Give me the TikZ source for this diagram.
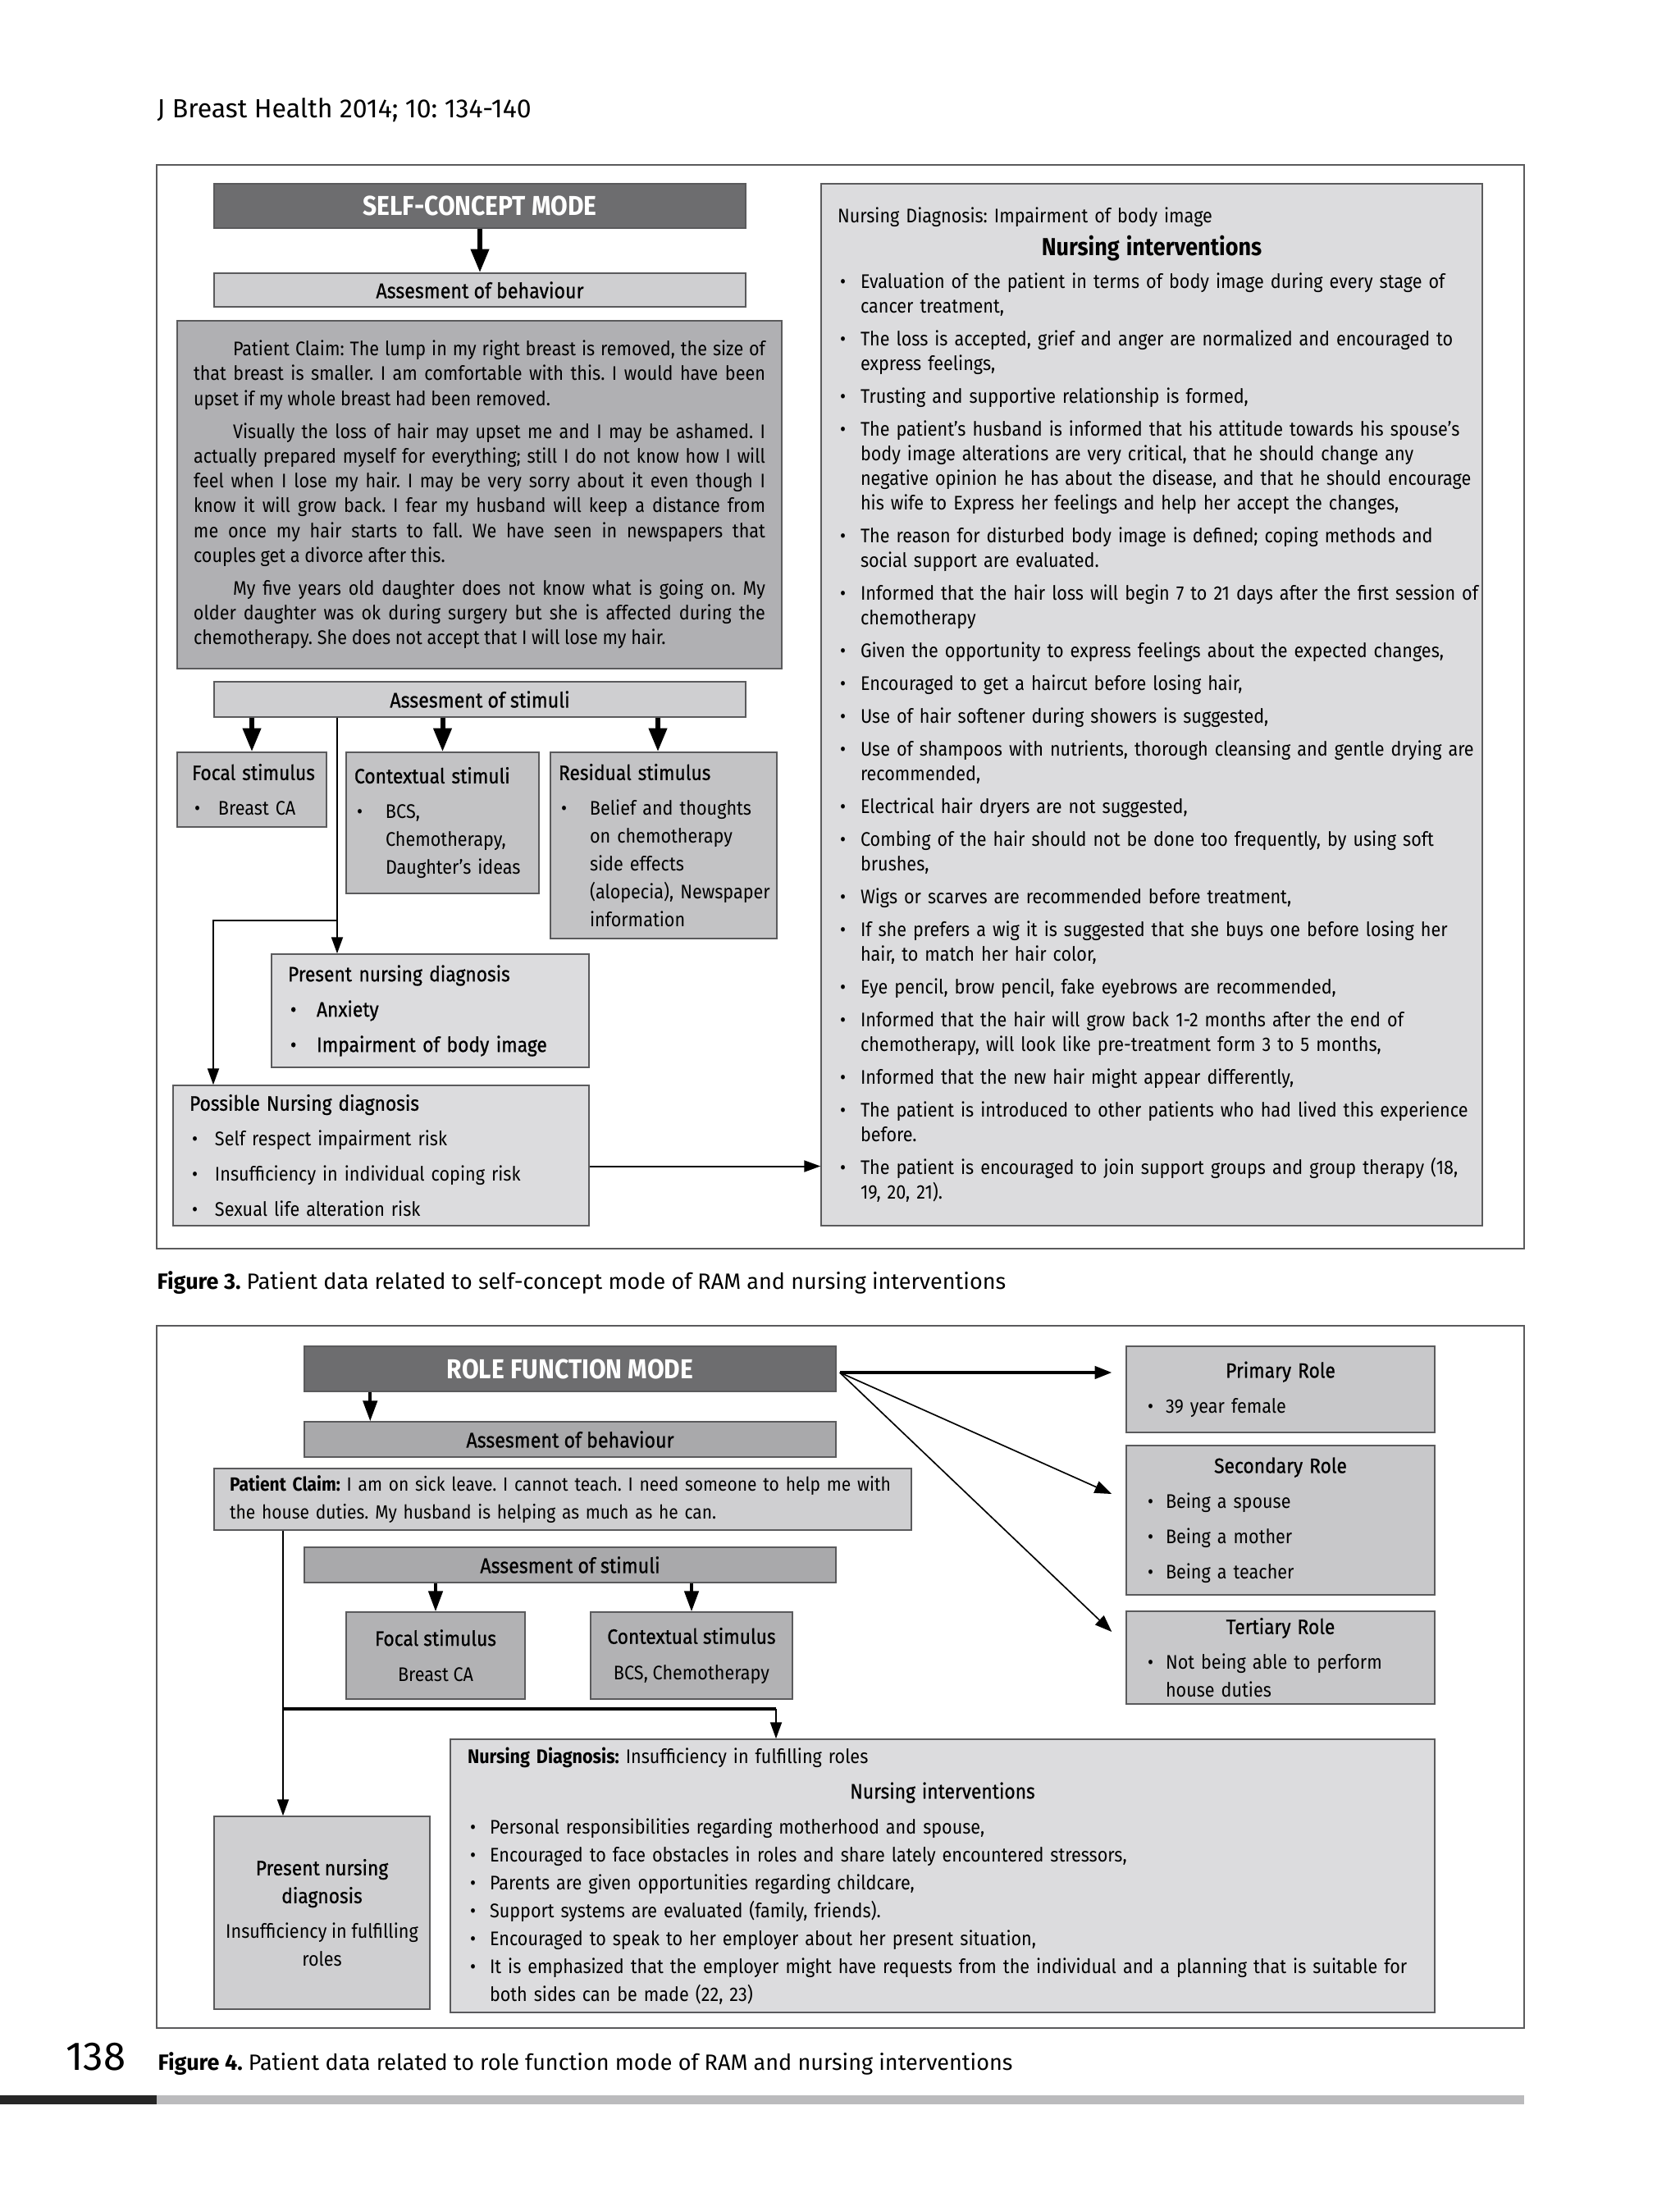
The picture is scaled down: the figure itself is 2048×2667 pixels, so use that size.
\documentclass[tikz,border=0pt]{standalone}
\usepackage{fontspec}
\setmainfont{Fira Sans}[FakeStretch=0.9]
\newfontfamily\medfont{Fira Sans}[FakeStretch=0.9,FakeBold=0.8]
\newfontfamily\capfont{Fira Sans}
\usetikzlibrary{arrows.meta,positioning}
\frenchspacing

\definecolor{modegray}{HTML}{6D6D6F}
\definecolor{boxpale}{HTML}{DCDCDE}
\definecolor{boxlight}{HTML}{CFCFD1}
\definecolor{boxclaim}{HTML}{B0B0B3}
\definecolor{boxstim}{HTML}{C3C3C5}
\definecolor{boxdim}{HTML}{A9A9AB}
\definecolor{boxfocal}{HTML}{B2B2B4}
\definecolor{boxrole}{HTML}{C8C8CA}
\definecolor{bargray}{HTML}{BBBBBD}
\definecolor{linegray}{HTML}{5A5A5C}

\newdimen\pxu
\pxu=0.3pt

\newcommand{\headfont}{\fontsize{7.6pt}{10.2pt}\medfont}
\newcommand{\bul}[2][9pt]{\par\hangindent=#1\hangafter=1\noindent\makebox[#1][l]{\hspace{0.9pt}\textbullet}#2\par}

\tikzset{
  boxline/.style={draw=linegray, line width=0.45pt},
  framebox/.style={draw=linegray, line width=0.55pt},
  modebox/.style={boxline, fill=modegray, text=white, inner sep=0pt,
    font=\fontsize{10pt}{11pt}\selectfont\bfseries},
  headbox/.style={boxline, inner sep=0pt, font=\fontsize{7.75pt}{9pt}\medfont},
  textbox/.style={boxline, inner ysep=0pt, align=left,
    font=\fontsize{7.2pt}{10.2pt}\selectfont,
    execute at begin node={\rightskip=-10pt plus 1fil\relax\parskip=2.7pt\relax}},
  centerbox/.style={boxline, inner sep=0pt, align=center,
    font=\fontsize{7.2pt}{10.2pt}\selectfont},
  bigarrow/.style={line width=1.8pt, -{Triangle[length=8.6pt,width=6.4pt]}},
  midarrow/.style={line width=1.1pt, -{Triangle[length=7.5pt,width=5.2pt]}},
  thinarrow/.style={line width=0.6pt, -{Triangle[length=6pt,width=4.2pt]}},
  rolearrow/.style={line width=0.5pt, -{Triangle[length=6.2pt,width=4.6pt]}},
}

\begin{document}
\begin{tikzpicture}[x=0.3pt, y=-0.3pt]
\useasboundingbox (0,0) rectangle (2048,2667);
\fill[white] (0,0) rectangle (2048,2667);

\node[anchor=base west, inner sep=0pt, font=\fontsize{9.6pt}{11pt}\capfont] (journal) at (191,143) {J Breast Health 2014; 10: 134-140};

\draw[framebox] (191,201) rectangle (1858,1522);
\node[modebox, minimum width=648\pxu, minimum height=54\pxu] (self) at (585,251) {SELF-CONCEPT MODE};
\node[headbox, fill=boxlight, minimum width=648\pxu, minimum height=41\pxu] (behav3) at (585,353.5) {Assesment of behaviour};
\node[boxline, fill=boxclaim, inner ysep=0pt, inner xsep=20\pxu, align=justify, text width=697\pxu,
  minimum width=737\pxu, minimum height=424\pxu, font=\fontsize{7.2pt}{9.06pt}\selectfont,
  execute at begin node={\parskip=3pt\relax}] (claim3) at (584.5,603) {%
\hspace*{14.4pt}Patient Claim: The lump in my right breast is removed, the size of\linebreak
that breast is smaller. I am comfortable with this. I would have been\linebreak
upset if my whole breast had been removed.\par
\hspace*{14.4pt}Visually the loss of hair may upset me and I may be ashamed. I\linebreak
actually prepared myself for everything; still I do not know how I will\linebreak
feel when I lose my hair. I may be very sorry about it even though I\linebreak
know it will grow back. I fear my husband will keep a distance from\linebreak
me once my hair starts to fall. We have seen in newspapers that\linebreak
couples get a divorce after this.\par
\hspace*{14.4pt}My five years old daughter does not know what is going on. My\linebreak
older daughter was ok during surgery but she is affected during the\linebreak
chemotherapy. She does not accept that I will lose my hair.};
\node[headbox, fill=boxlight, minimum width=648\pxu, minimum height=43\pxu] (stim3) at (585,852.5) {Assesment of stimuli};
\node[textbox, fill=boxstim, inner xsep=18\pxu, text width=146\pxu, minimum width=182\pxu, minimum height=91\pxu] (focal3) at (307,962.5)
  {{\headfont Focal stimulus}\bul[9.6pt]{Breast CA}};
\node[textbox, fill=boxstim, inner xsep=10\pxu, text width=215\pxu, minimum width=235\pxu, minimum height=172\pxu] (context3) at (539.5,1003)
  {{\headfont Contextual stimuli}\bul[11.4pt]{BCS,\newline Chemotherapy,\newline Daughter’s ideas}};
\node[textbox, fill=boxstim, inner xsep=10\pxu, text width=256\pxu, minimum width=276\pxu, minimum height=227\pxu] (resid3) at (809,1030.5)
  {{\headfont Residual stimulus}\bul[11.4pt]{Belief and thoughts\newline on chemotherapy\newline side effects\newline (alopecia), Newspaper\newline information}};
\node[textbox, fill=boxpale, inner xsep=20\pxu, text width=347\pxu, minimum width=387\pxu, minimum height=138\pxu, font=\headfont] (present3) at (524.5,1232)
  {Present nursing diagnosis\bul[10.5pt]{Anxiety}\bul[10.5pt]{Impairment of body image}};
\node[textbox, fill=boxpale, inner xsep=20\pxu, text width=467\pxu, minimum width=507\pxu, minimum height=171\pxu] (possible3) at (464.5,1408.5)
  {{\headfont Possible Nursing diagnosis}\bul[9.3pt]{Self respect impairment risk}\bul[9.3pt]{Insufficiency in individual coping risk}\bul[9.3pt]{Sexual life alteration risk}};
\node[textbox, fill=boxpale, inner xsep=20\pxu, text width=766\pxu, minimum width=806\pxu, minimum height=1270\pxu,
  font=\fontsize{7.2pt}{9pt}\selectfont,
  execute at begin node={\rightskip=-12pt plus 1fil\relax\parskip=3pt\relax}] (interv3) at (1404,859) {%
Nursing Diagnosis: Impairment of body image\par
{\centering\fontsize{9pt}{9pt}\selectfont\bfseries Nursing interventions\par}
\bul[8.4pt]{Evaluation of the patient in terms of body image during every stage of\newline cancer treatment,}
\bul[8.4pt]{The loss is accepted, grief and anger are normalized and encouraged to\newline express feelings,}
\bul[8.4pt]{Trusting and supportive relationship is formed,}
\bul[8.4pt]{The patient’s husband is informed that his attitude towards his spouse’s\newline body image alterations are very critical, that he should change any\newline negative opinion he has about the disease, and that he should encourage\newline his wife to Express her feelings and help her accept the changes,}
\bul[8.4pt]{The reason for disturbed body image is defined; coping methods and\newline social support are evaluated.}
\bul[8.4pt]{Informed that the hair loss will begin 7 to 21 days after the first session of\newline chemotherapy}
\bul[8.4pt]{Given the opportunity to express feelings about the expected changes,}
\bul[8.4pt]{Encouraged to get a haircut before losing hair,}
\bul[8.4pt]{Use of hair softener during showers is suggested,}
\bul[8.4pt]{Use of shampoos with nutrients, thorough cleansing and gentle drying are\newline recommended,}
\bul[8.4pt]{Electrical hair dryers are not suggested,}
\bul[8.4pt]{Combing of the hair should not be done too frequently, by using soft\newline brushes,}
\bul[8.4pt]{Wigs or scarves are recommended before treatment,}
\bul[8.4pt]{If she prefers a wig it is suggested that she buys one before losing her\newline hair, to match her hair color,}
\bul[8.4pt]{Eye pencil, brow pencil, fake eyebrows are recommended,}
\bul[8.4pt]{Informed that the hair will grow back 1-2 months after the end of\newline chemotherapy, will look like pre-treatment form 3 to 5 months,}
\bul[8.4pt]{Informed that the new hair might appear differently,}
\bul[8.4pt]{The patient is introduced to other patients who had lived this experience\newline before.}
\bul[8.4pt]{The patient is encouraged to join support groups and group therapy (18,\newline 19, 20, 21).}};

\draw[bigarrow] (self) -- (behav3);
\draw[bigarrow] (stim3.south -| focal3.north) -- (focal3.north);
\draw[bigarrow] (stim3.south -| context3.north) -- (context3.north);
\coordinate (r3) at ([xshift=-2.1pt]resid3.north);
\draw[bigarrow] (stim3.south -| r3) -- (r3);
\coordinate (j3) at (411,1122);
\coordinate (k3) at (260,1122);
\draw[line width=0.6pt] (stim3.south -| j3) -- (j3);
\draw[thinarrow] (j3) -- (j3 |- present3.north);
\draw[thinarrow] (j3) -- (k3) -- (k3 |- possible3.north);
\coordinate (p3) at ([yshift=-3.9pt]possible3.east);
\draw[thinarrow] (p3) -- (p3 -| interv3.west);

\node[anchor=base west, inner sep=0pt, font=\fontsize{8.1pt}{10pt}\capfont] (caption3) at (191,1571) {\textbf{Figure 3.} Patient data related to self-concept mode of RAM and nursing interventions};

\draw[framebox] (191,1616) rectangle (1858,2472);
\node[modebox, minimum width=648\pxu, minimum height=55\pxu] (role) at (695,1668.5) {ROLE FUNCTION MODE};
\node[headbox, fill=boxdim, minimum width=648\pxu, minimum height=43\pxu] (behav4) at (695,1754.5) {Assesment of behaviour};
\node[textbox, fill=boxlight, inner xsep=19\pxu, text width=812\pxu, minimum width=850\pxu, minimum height=75\pxu,
  font=\fontsize{7pt}{10.2pt}\selectfont] (claim4) at (686,1827.5)
  {\textbf{Patient Claim:} I am on sick leave. I cannot teach. I need someone to help me with\newline the house duties. My husband is helping as much as he can.};
\node[headbox, fill=boxdim, minimum width=648\pxu, minimum height=43\pxu] (stim4) at (695,1907.5) {Assesment of stimuli};
\node[centerbox, fill=boxfocal, minimum width=218\pxu, minimum height=106\pxu] (focal4) at (531,2018)
  {{\headfont Focal stimulus}\\[2.8pt]Breast CA};
\node[centerbox, fill=boxfocal, minimum width=246\pxu, minimum height=106\pxu] (context4) at (843,2018)
  {{\headfont Contextual stimulus}\\[2.8pt]BCS, Chemotherapy};
\node[textbox, fill=boxrole, inner xsep=23\pxu, text width=330\pxu, minimum width=376\pxu, minimum height=105\pxu] (primary) at (1561,1693.5)
  {{\centering\headfont Primary Role\par}\bul[7.5pt]{39 year female}};
\node[textbox, fill=boxrole, inner xsep=23\pxu, text width=330\pxu, minimum width=376\pxu, minimum height=182\pxu] (secondary) at (1561,1853)
  {{\centering\headfont Secondary Role\par}\bul[7.5pt]{Being a spouse}\bul[7.5pt]{Being a mother}\bul[7.5pt]{Being a teacher}};
\node[textbox, fill=boxrole, inner xsep=23\pxu, text width=330\pxu, minimum width=376\pxu, minimum height=113\pxu] (tertiary) at (1561,2020.5)
  {{\centering\headfont Tertiary Role\par}\bul[7.5pt]{Not being able to perform\newline house duties}};
\node[centerbox, fill=boxlight, minimum width=263\pxu, minimum height=235\pxu] (present4) at (392.5,2331.5)
  {{\headfont Present nursing}\\{\headfont diagnosis}\\[2.7pt]Insufficiency in fulfilling\\roles};
\node[textbox, fill=boxpale, inner xsep=21\pxu, text width=1158\pxu, minimum width=1200\pxu, minimum height=333\pxu] (interv4) at (1149,2286.5) {%
\textbf{Nursing Diagnosis:} Insufficiency in fulfilling roles\par
{\centering\headfont Nursing interventions\par}\vspace{2.7pt}\parskip=0pt
\bul[8.1pt]{Personal responsibilities regarding motherhood and spouse,}
\bul[8.1pt]{Encouraged to face obstacles in roles and share lately encountered stressors,}
\bul[8.1pt]{Parents are given opportunities regarding childcare,}
\bul[8.1pt]{Support systems are evaluated (family, friends).}
\bul[8.1pt]{Encouraged to speak to her employer about her present situation,}
\bul[8.1pt]{It is emphasized that the employer might have requests from the individual and a planning that is suitable for\newline both sides can be made (22, 23)}};

\draw[midarrow] ([xshift=24.3pt]role.south west) -- ([xshift=24.3pt]behav4.north west);
\draw[midarrow] (stim4.south -| focal4.north) -- (focal4.north);
\draw[midarrow] (stim4.south -| context4.north) -- (context4.north);
\coordinate (r4) at ([xshift=1.2pt,yshift=-1.35pt]role.east);
\draw[rolearrow, line width=1pt, shorten >=5.1pt] (r4) -- (r4 -| primary.west);
\draw[rolearrow] (r4) -- ([xshift=-5.1pt,yshift=9.6pt]secondary.west);
\draw[rolearrow] (r4) -- ([xshift=-5.1pt,yshift=9.45pt]tertiary.west);
\coordinate (j4) at (345,2083);
\coordinate (k4) at (946,2083);
\draw[line width=0.6pt] (claim4.south -| j4) -- (j4);
\draw[thinarrow] (j4) -- (j4 |- present4.north);
\draw[line width=1pt] (j4) -- (k4);
\draw[thinarrow] (k4) -- (k4 |- interv4.north);

\node[anchor=base west, inner sep=0pt, font=\fontsize{8.1pt}{10pt}\capfont] (caption4) at (192,2523) {\textbf{Figure 4.} Patient data related to role function mode of RAM and nursing interventions};
\node[anchor=base west, inner sep=0pt, font=\fontsize{14.7pt}{16pt}\capfont] (pageno) at (80,2523) {138};
\fill[black!85] (0,2554) rectangle (191,2565);
\fill[bargray] (191,2554) rectangle (1858,2565);
\end{tikzpicture}
\end{document}
